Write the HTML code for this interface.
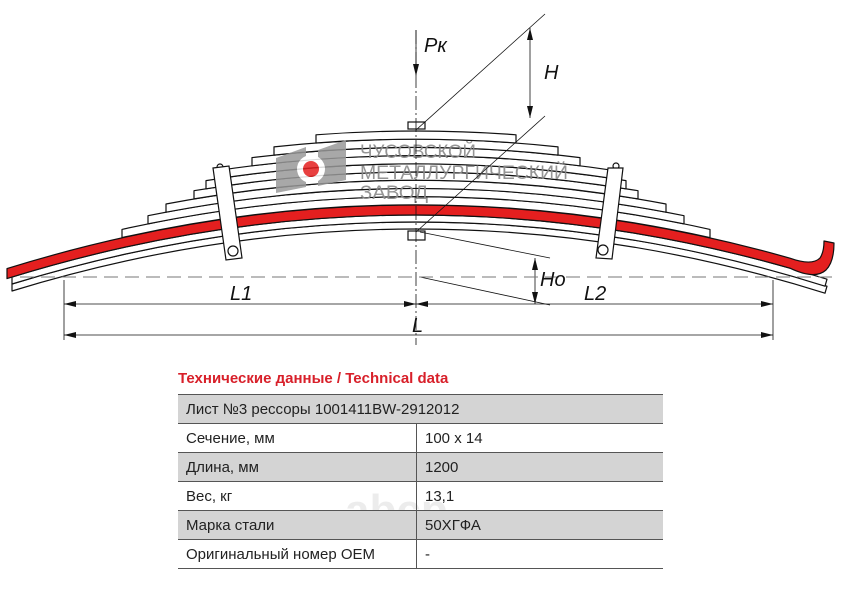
<!DOCTYPE html>
<html><head><meta charset="utf-8"><style>
html,body{margin:0;padding:0;background:#fff;}
body{width:842px;height:595px;position:relative;overflow:hidden;font-family:"Liberation Sans",sans-serif;}
table{position:absolute;left:178px;top:394px;width:485px;border-collapse:collapse;font-size:15px;color:#222;}
td{height:28px;padding:0 0 0 8px;border-bottom:1.5px solid #555;}
tr.g td{background:#d4d4d4;}
td.v{border-left:1.5px solid #555;}
.title{position:absolute;left:178px;top:370px;font-size:15px;font-weight:bold;color:#d8202a;}
</style></head><body>
<svg width="842" height="595" style="position:absolute;left:0;top:0">
<g fill="#fff" stroke="#111" stroke-width="1.2" stroke-linejoin="round">
<path d="M12,284 Q214,222 416,222 Q621.5,222 827,286.2 L825,293.2 Q621.5,229 416,229 Q214,229 12,291 Z"/>
<path d="M12,277 Q214,215 416,215 Q621.5,215 827,279.2 L825,286.2 Q621.5,222 416,222 Q214,222 12,284 Z"/>
<path d="M7,268.6 Q211.5,205 416,205 Q603,205 790,258.2 Q812,266 820,258 Q824,252 824,241 L834,243 Q834,262 826,270 Q815,280 790,268.2 Q603,215 416,215 Q211.5,215 7,278.6 Z" fill="#e41f1f"/>
<path d="M122,229.4 Q416,163.8 710,229.4 L710,237.6 Q416,172 122,237.6 Z"/>
<path d="M148,215.7 Q416,161.1 684,215.7 L684,223.9 Q416,169.3 148,223.9 Z"/>
<path d="M166,204 Q416,156.5 666,204 L666,212.2 Q416,164.7 166,212.2 Z"/>
<path d="M194,190.7 Q416,153.3 638,190.7 L638,198.9 Q416,161.5 194,198.9 Z"/>
<path d="M206,180.6 Q416,147 626,180.6 L626,188.8 Q416,155.2 206,188.8 Z"/>
<path d="M216,170.8 Q416,140.4 616,170.8 L616,179 Q416,148.6 216,179 Z"/>
<path d="M252,157.6 Q416,137.2 580,157.6 L580,165.8 Q416,145.4 252,165.8 Z"/>
<path d="M274,146.9 Q416,131.5 558,146.9 L558,155.1 Q416,139.7 274,155.1 Z"/>
<path d="M316,134.8 Q416,127.2 516,134.8 L516,143 Q416,135.4 316,143 Z"/>
</g>
<!-- logo -->
<g opacity="0.85">
<polygon points="276,158 306,147 306,187 276,193" fill="#999"/>
<polygon points="318,150 346,140 346,180 318,186" fill="#999"/>
<circle cx="311" cy="169" r="14" fill="#fff"/>
<circle cx="311" cy="169" r="8" fill="#e41f1f"/>
</g>
<g font-family="Liberation Sans,sans-serif" font-size="19" fill="#8a8a8a" opacity="0.9">
<text x="360" y="158" textLength="116" lengthAdjust="spacingAndGlyphs">ЧУСОВСКОЙ</text>
<text x="360" y="179" textLength="208" lengthAdjust="spacingAndGlyphs">МЕТАЛЛУРГИЧЕСКИЙ</text>
<text x="360" y="199" textLength="68" lengthAdjust="spacingAndGlyphs">ЗАВОД</text>
</g>
<!-- clamps -->
<g fill="#fff" stroke="#111" stroke-width="1.2">
<circle cx="220" cy="167" r="3"/>
<polygon points="213,168 229,166 242,258 226,260"/>
<circle cx="233" cy="251" r="5"/>
<circle cx="616" cy="166" r="3"/>
<polygon points="608,168 623,168 612,259 596,258"/>
<circle cx="603" cy="250" r="5"/>
<rect x="408" y="122" width="17" height="7"/>
<rect x="408" y="231" width="17" height="9"/>
</g>
<g stroke="#111" stroke-width="0.8" fill="none">
<line x1="416" y1="30" x2="416" y2="345" stroke-dasharray="14,3,2,3"/>
<line x1="416" y1="130" x2="545" y2="14"/>
<line x1="416" y1="232" x2="545" y2="116"/>
<line x1="530" y1="28" x2="530" y2="118"/>
<line x1="420" y1="232" x2="550" y2="258"/>
<line x1="420" y1="277" x2="550" y2="305"/>
<line x1="535" y1="258" x2="535" y2="304"/>
<line x1="64" y1="280" x2="64" y2="340"/>
<line x1="773" y1="280" x2="773" y2="340"/>
<line x1="64" y1="304" x2="773" y2="304"/>
<line x1="64" y1="335" x2="773" y2="335"/>
<line x1="416" y1="30" x2="416" y2="75"/>
</g>
<line x1="20" y1="277" x2="835" y2="277" stroke="#777" stroke-width="1" stroke-dasharray="14,7"/>
<g fill="#111">
<polygon points="413,64 419,64 416,76"/>
<polygon points="527,40 533,40 530,28"/>
<polygon points="527,106 533,106 530,118"/>
<polygon points="532,270 538,270 535,258"/>
<polygon points="532,292 538,292 535,304"/>
<polygon points="64,304 76,301 76,307"/>
<polygon points="416,304 404,301 404,307"/>
<polygon points="416,304 428,301 428,307"/>
<polygon points="773,304 761,301 761,307"/>
<polygon points="64,335 76,332 76,338"/>
<polygon points="773,335 761,332 761,338"/>
</g>
<g font-family="Liberation Sans,sans-serif" font-style="italic" font-size="20" fill="#111">
<text x="424" y="52">Pк</text>
<text x="544" y="79">H</text>
<text x="540" y="286">Ho</text>
<text x="230" y="300">L1</text>
<text x="584" y="300">L2</text>
<text x="412" y="332">L</text>
</g>
<text x="345" y="525" font-family="Liberation Sans,sans-serif" font-size="44" font-weight="bold" fill="#000" opacity="0.07">abcp<tspan font-size="18">.ru</tspan></text>
</svg>
<div class="title">Технические данные / Technical data</div>
<table>
<tr class="g"><td colspan="2" style="border-top:1.5px solid #555">Лист №3 рессоры 1001411BW-2912012</td></tr>
<tr><td style="width:230px">Сечение, мм</td><td class="v">100 x 14</td></tr>
<tr class="g"><td>Длина, мм</td><td class="v">1200</td></tr>
<tr><td>Вес, кг</td><td class="v">13,1</td></tr>
<tr class="g"><td>Марка стали</td><td class="v">50ХГФА</td></tr>
<tr><td>Оригинальный номер OEM</td><td class="v">-</td></tr>
</table>
</body></html>
